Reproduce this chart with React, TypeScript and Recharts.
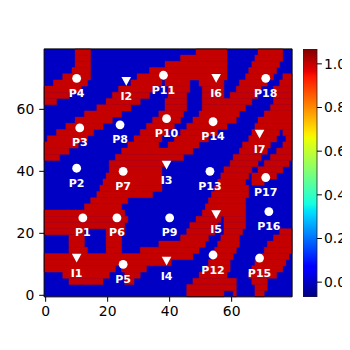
import React from "react";
import { ScatterChart, Scatter, XAxis, YAxis, ReferenceArea, ComposedChart } from "recharts";

const blue = "#0000c5";
const red = "#c50000";

// heat map, 80 x 80 cells; each band covers grid rows y0 and y0 + 1,
// runs are inclusive column ranges where the value is 1 (red)
const rowY: number[] = [
  78, 76, 74, 72, 70, 68, 66, 64, 62, 60, 58, 56, 54, 52, 50, 48, 46, 44, 42, 40,
  38, 36, 34, 32, 30, 28, 26, 24, 22, 20, 18, 16, 14, 12, 10, 8, 6, 4, 2, 0,
];
const redRuns: number[][][] = [
  [[10, 14], [49, 58], [69, 76]],
  [[10, 14], [44, 58], [68, 76]],
  [[10, 14], [39, 58], [67, 75]],
  [[9, 14], [34, 58], [66, 74]],
  [[6, 14], [30, 58], [65, 73], [77, 79]],
  [[3, 13], [28, 37], [39, 46], [50, 57], [63, 71], [76, 79]],
  [[0, 11], [24, 35], [40, 46], [51, 57], [62, 69], [74, 79]],
  [[0, 7], [22, 33], [40, 45], [51, 57], [60, 68], [74, 79]],
  [[0, 3], [20, 30], [39, 45], [51, 66], [74, 79]],
  [[17, 27], [39, 45], [51, 64], [73, 79]],
  [[13, 24], [37, 44], [50, 62], [71, 79]],
  [[10, 21], [35, 43], [48, 61], [69, 79]],
  [[7, 18], [33, 41], [46, 58], [68, 79]],
  [[4, 15], [31, 39], [44, 55], [67, 75], [77, 79]],
  [[1, 13], [29, 37], [42, 52], [66, 74], [78, 79]],
  [[0, 10], [27, 36], [40, 49], [64, 72], [77, 79]],
  [[0, 7], [25, 47], [63, 71], [75, 79]],
  [[0, 4], [23, 44], [61, 69], [73, 79]],
  [[21, 38], [60, 68], [71, 78]],
  [[21, 37], [58, 66], [69, 76]],
  [[20, 37], [57, 65], [67, 74]],
  [[19, 37], [56, 64], [67, 70]],
  [[18, 37], [55, 65]],
  [[17, 34], [54, 65]],
  [[15, 26], [53, 64]],
  [[13, 24], [52, 64]],
  [[0, 25], [51, 64]],
  [[0, 26], [49, 56], [58, 64]],
  [[0, 25], [47, 55], [58, 64]],
  [[0, 12], [20, 25], [46, 54], [58, 63], [76, 79]],
  [[8, 12], [20, 24], [44, 52], [57, 62], [74, 79]],
  [[8, 12], [20, 24], [37, 51], [56, 62], [72, 79]],
  [[8, 13], [20, 24], [31, 49], [55, 61], [71, 79]],
  [[0, 47], [54, 60], [69, 78]],
  [[0, 40], [53, 59], [68, 77]],
  [[0, 22], [25, 32], [52, 59], [67, 76]],
  [[6, 20], [26, 30], [50, 58], [66, 74]],
  [[8, 18], [26, 28], [48, 61], [67, 71]],
  [[46, 61], [68, 71]],
  [[46, 57], [61, 61], [68, 70]],
];

const pointNames = [
  "P1", "P2", "P3", "P4", "P5", "P6", "P7", "P8", "P9",
  "P10", "P11", "P12", "P13", "P14", "P15", "P16", "P17", "P18",
];
const pointX = [12, 10, 11, 10, 25, 23, 25, 24, 40, 39, 38, 54, 53, 54, 69, 72, 71, 71];
const pointY = [25, 41, 54, 70, 10, 25, 40, 55, 25, 57, 71, 13, 40, 56, 12, 27, 38, 70];

const inletNames = ["I1", "I2", "I3", "I4", "I5", "I6", "I7"];
const inletX = [10, 26, 39, 39, 55, 55, 69];
const inletY = [12, 69, 42, 11, 26, 70, 52];

const axisTicks = [0, 20, 40, 60];
const barTicks = [0, 0.2, 0.4, 0.6, 0.8, 1.0];
const barMin = -0.068;
const barMax = 1.068;

const points = pointNames.map((name, i) => ({ name, x: pointX[i], y: pointY[i] }));
const inlets = inletNames.map((name, i) => ({ name, x: inletX[i], y: inletY[i] }));

const font = "DejaVu Sans, sans-serif";
const tickStyle = { fontSize: 13.9, fill: "#000", fontFamily: font };

const Label = ({ x, y, text }: { x: number; y: number; text: string }) => (
  <text x={x} y={y + 18.5} textAnchor="middle" fill="#fff" fontSize={11} fontWeight="bold" fontFamily={font}>
    {text}
  </text>
);

const CircleMark = (props: any) => {
  const { cx, cy, payload } = props;
  return (
    <g>
      <circle cx={cx} cy={cy} r={4.4} fill="#fff" />
      <Label x={cx} y={cy} text={payload.name} />
    </g>
  );
};

const TriangleMark = (props: any) => {
  const { cx, cy, payload } = props;
  return (
    <g>
      <polygon points={`${cx},${cy + 4.4} ${cx - 4.8},${cy - 4.4} ${cx + 4.8},${cy - 4.4}`} fill="#fff" />
      <Label x={cx} y={cy} text={payload.name} />
    </g>
  );
};

const ColorBar = () => (
  <ComposedChart width={47} height={248} margin={{ top: 0, right: 0, bottom: 0, left: 0 }} data={[{ x: 0 }, { x: 1 }]}>
    <defs>
      <linearGradient id="jet" x1="0" y1="1" x2="0" y2="0">
        <stop offset="0" stopColor="#000080" />
        <stop offset="0.11" stopColor="#0000ff" />
        <stop offset="0.125" stopColor="#0000ff" />
        <stop offset="0.34" stopColor="#00dbff" />
        <stop offset="0.35" stopColor="#00e5f7" />
        <stop offset="0.375" stopColor="#14ffe2" />
        <stop offset="0.64" stopColor="#eeff04" />
        <stop offset="0.65" stopColor="#f7f500" />
        <stop offset="0.66" stopColor="#ffec00" />
        <stop offset="0.89" stopColor="#ff1300" />
        <stop offset="0.91" stopColor="#e80000" />
        <stop offset="1" stopColor="#800000" />
      </linearGradient>
    </defs>
    <XAxis dataKey="x" type="number" domain={[0, 1]} hide />
    <YAxis
      orientation="right"
      type="number"
      domain={[barMin, barMax]}
      allowDataOverflow
      ticks={barTicks}
      tickFormatter={(v: number) => v.toFixed(1)}
      width={33}
      tick={tickStyle}
      tickSize={4.9}
      tickMargin={2}
      axisLine={false}
      tickLine={{ stroke: "#000" }}
    />
    <ReferenceArea x1={0} x2={1} y1={barMin} y2={barMax} fill="url(#jet)" fillOpacity={1} stroke="#222" strokeWidth={0.8} />
  </ComposedChart>
);

export default function App() {
  return (
    <div style={{ position: "relative", width: 342, height: 342 }}>
      <style>{"body { overflow: hidden; }"}</style>
      <ScatterChart width={342} height={342} margin={{ top: 40.9, right: 57.9, bottom: 23.15, left: 0 }}>
        <XAxis
          dataKey="x"
          type="number"
          domain={[-0.5, 79.5]}
          allowDataOverflow
          ticks={axisTicks}
          height={30}
          tick={tickStyle}
          tickSize={4.9}
          tickMargin={4}
          axisLine={false}
          tickLine={{ stroke: "#000" }}
        />
        <YAxis
          dataKey="y"
          type="number"
          domain={[-0.5, 79.5]}
          allowDataOverflow
          ticks={axisTicks}
          width={36.1}
          tick={tickStyle}
          tickSize={4.9}
          tickMargin={4.9}
          axisLine={false}
          tickLine={{ stroke: "#000" }}
        />
        <ReferenceArea x1={-0.5} x2={79.5} y1={-0.5} y2={79.5} fill={blue} fillOpacity={1} />
        {rowY.flatMap((y0, i) =>
          redRuns[i].map(([a, b], j) => (
            <ReferenceArea
              key={`r${i}-${j}`}
              x1={a - 0.5}
              x2={b + 0.5}
              y1={y0 - 0.5}
              y2={y0 + 1.5}
              fill={red}
              fillOpacity={1}
              stroke={red}
              strokeWidth={0.4}
            />
          ))
        )}
        <ReferenceArea x1={-0.5} x2={79.5} y1={-0.5} y2={79.5} fill="none" stroke="#000" strokeWidth={1} />
        <Scatter data={points} shape={CircleMark} isAnimationActive={false} />
        <Scatter data={inlets} shape={TriangleMark} isAnimationActive={false} />
      </ScatterChart>
      <div style={{ position: "absolute", left: 294.7, top: 40.9 }}>
        <ColorBar />
      </div>
    </div>
  );
}
